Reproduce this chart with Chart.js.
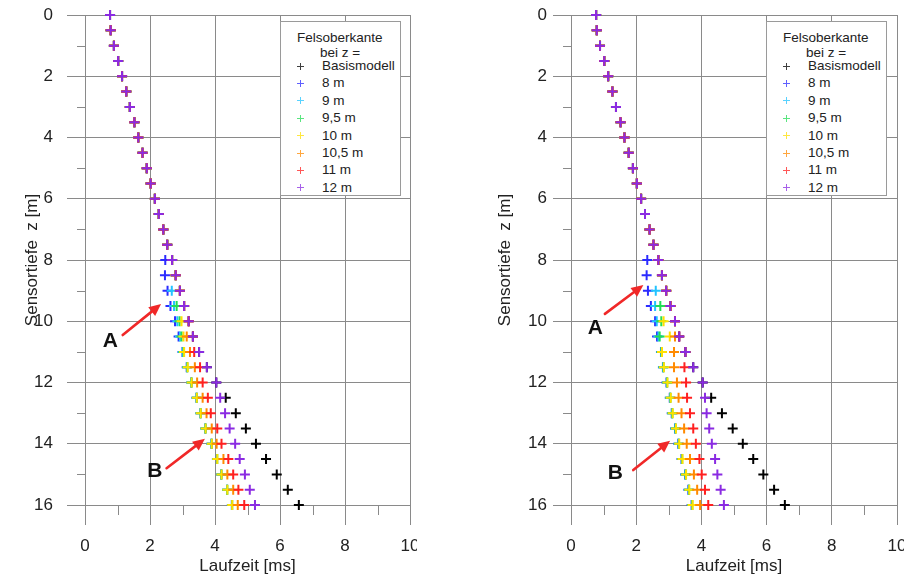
<!DOCTYPE html>
<html><head><meta charset="utf-8">
<script src="https://cdn.jsdelivr.net/npm/chart.js@4.4.0/dist/chart.umd.min.js"></script>
<style>
html,body{margin:0;padding:0;background:#fff;}
body{width:910px;height:574px;position:relative;overflow:hidden;font-family:"Liberation Sans",Arial,sans-serif;}
.panel{position:absolute;top:0;width:455px;height:574px;}
.panel canvas{position:absolute;left:0;top:0;}
.legend{position:absolute;background:#fff;border:1px solid #9a9a9a;box-sizing:border-box;font-size:13.5px;color:#222;}
.legend .ln{position:absolute;white-space:nowrap;line-height:16px;height:16px;}
.legend .mk{position:absolute;width:7px;height:7px;}
.legend .mk:before{content:"";position:absolute;left:3px;top:0;width:1px;height:7px;background:currentColor;}
.legend .mk:after{content:"";position:absolute;left:0;top:3px;width:7px;height:1px;background:currentColor;}
.mask{position:absolute;background:#fff;}
</style></head>
<body>
<div class="panel" id="p0" style="left:0"><canvas id="c0" width="455" height="574"></canvas></div>
<div class="panel" id="p1" style="left:455px"><canvas id="c1" width="455" height="574"></canvas></div>
<div class="mask" style="left:417px;top:532px;width:30px;height:24px"></div>
<div class="mask" style="left:904px;top:532px;width:6px;height:24px"></div>
<script>
// ---------------- data ----------------
const depths = [0,0.5,1,1.5,2,2.5,3,3.5,4,4.5,5,5.5,6,6.5,7,7.5,8,8.5,9,9.5,10,10.5,11,11.5,12,12.5,13,13.5,14,14.5,15,15.5,16];
const seriesNames = ['Basismodell','8 m','9 m','9,5 m','10 m','10,5 m','11 m','12 m'];
const seriesColors = ['#000000','#2b2bff','#22c4ff','#22dd55','#ffe000','#ff8a00','#ff2020','#8a2be2'];
const xTickValues = [0,2,4,6,8,10];
const yTickValues = [0,2,4,6,8,10,12,14,16];
const xMinorValues = [1,3,5,7,9];
const yMinorValues = [1,3,5,7,9,11,13,15];
const xTitle = 'Laufzeit [ms]';
const yTitle = 'Sensortiefe  z [m]';
const legendTitle = ['Felsoberkante','bei z ='];

// left panel (travel times in ms)
const leftBasis = [0.77,0.79,0.89,1.02,1.14,1.27,1.38,1.52,1.64,1.77,1.90,2.02,2.15,2.27,2.41,2.53,2.68,2.79,2.92,3.05,3.19,3.32,3.51,3.75,4.04,4.33,4.64,4.95,5.26,5.57,5.90,6.24,6.58];
const left8   = [0.77,0.79,0.89,1.02,1.14,1.27,1.38,1.52,1.64,1.77,1.90,2.02,2.15,2.27,2.41,2.53,2.47,2.46,2.54,2.63,2.77,2.88,3.00,3.13,3.27,3.43,3.55,3.70,3.89,4.06,4.19,4.37,4.52];
const left9   = [0.77,0.79,0.89,1.02,1.14,1.27,1.38,1.52,1.64,1.77,1.90,2.02,2.15,2.27,2.41,2.53,2.68,2.79,2.67,2.74,2.84,2.92,3.01,3.14,3.27,3.43,3.55,3.70,3.89,4.06,4.19,4.37,4.52];
const left95  = [0.77,0.79,0.89,1.02,1.14,1.27,1.38,1.52,1.64,1.77,1.90,2.02,2.15,2.27,2.41,2.53,2.68,2.79,2.92,2.82,2.91,2.97,3.03,3.15,3.28,3.44,3.56,3.71,3.90,4.07,4.20,4.38,4.53];
const left10  = [0.77,0.79,0.89,1.02,1.14,1.27,1.38,1.52,1.64,1.77,1.90,2.02,2.15,2.27,2.41,2.53,2.68,2.79,2.92,3.05,2.97,3.03,3.05,3.16,3.28,3.44,3.56,3.71,3.90,4.07,4.20,4.38,4.53];
const left105 = [0.77,0.79,0.89,1.02,1.14,1.27,1.38,1.52,1.64,1.77,1.90,2.02,2.15,2.27,2.41,2.53,2.68,2.79,2.92,3.05,3.19,3.13,3.23,3.38,3.45,3.62,3.74,3.90,4.05,4.26,4.38,4.56,4.70];
const left11  = [0.77,0.79,0.89,1.02,1.14,1.27,1.38,1.52,1.64,1.77,1.90,2.02,2.15,2.27,2.41,2.53,2.68,2.79,2.92,3.05,3.19,3.32,3.36,3.54,3.62,3.78,3.87,4.07,4.20,4.41,4.56,4.72,4.90];
const left12  = [0.77,0.79,0.89,1.02,1.14,1.27,1.38,1.52,1.64,1.77,1.90,2.02,2.15,2.27,2.41,2.53,2.68,2.79,2.92,3.05,3.19,3.32,3.51,3.75,4.04,4.16,4.31,4.45,4.62,4.76,4.92,5.07,5.23];

// right panel (travel times in ms)
const rightBasis = [0.77,0.79,0.89,1.02,1.14,1.27,1.38,1.52,1.64,1.77,1.90,2.02,2.15,2.27,2.41,2.53,2.68,2.79,2.92,3.05,3.19,3.32,3.51,3.75,4.04,4.30,4.63,4.96,5.27,5.59,5.90,6.23,6.56];
const right8   = [0.77,0.79,0.89,1.02,1.14,1.27,1.38,1.52,1.64,1.77,1.90,2.02,2.15,2.27,2.41,2.53,2.34,2.32,2.36,2.45,2.58,2.64,2.76,2.82,2.93,3.03,3.09,3.19,3.29,3.39,3.50,3.60,3.70];
const right9   = [0.77,0.79,0.89,1.02,1.14,1.27,1.38,1.52,1.64,1.77,1.90,2.02,2.15,2.27,2.41,2.53,2.68,2.79,2.60,2.58,2.63,2.68,2.77,2.83,2.94,3.04,3.10,3.20,3.30,3.40,3.51,3.61,3.71];
const right95  = [0.77,0.79,0.89,1.02,1.14,1.27,1.38,1.52,1.64,1.77,1.90,2.02,2.15,2.27,2.41,2.53,2.68,2.79,2.92,2.74,2.77,2.72,2.78,2.84,2.95,3.05,3.11,3.21,3.31,3.41,3.52,3.62,3.72];
const right10  = [0.77,0.79,0.89,1.02,1.14,1.27,1.38,1.52,1.64,1.77,1.90,2.02,2.15,2.27,2.41,2.53,2.68,2.79,2.92,3.05,2.84,3.03,2.79,2.85,2.96,3.06,3.12,3.22,3.32,3.42,3.53,3.63,3.73];
const right105 = [0.77,0.79,0.89,1.02,1.14,1.27,1.38,1.52,1.64,1.77,1.90,2.02,2.15,2.27,2.41,2.53,2.68,2.79,2.92,3.05,3.19,3.19,3.16,3.16,3.25,3.30,3.39,3.47,3.55,3.65,3.77,3.87,3.96];
const right11  = [0.77,0.79,0.89,1.02,1.14,1.27,1.38,1.52,1.64,1.77,1.90,2.02,2.15,2.27,2.41,2.53,2.68,2.79,2.92,3.05,3.19,3.32,3.51,3.48,3.53,3.56,3.65,3.75,3.83,3.94,4.01,4.11,4.21];
const right12  = [0.77,0.79,0.89,1.02,1.14,1.27,1.38,1.52,1.64,1.77,1.90,2.02,2.15,2.27,2.41,2.53,2.68,2.79,2.92,3.05,3.19,3.32,3.51,3.75,4.04,4.11,4.16,4.24,4.32,4.42,4.49,4.59,4.69];

// annotation arrows (data units: [time, depth])
const leftArrows = [
  {label:'A', from:[1.16,10.45], to:[2.34,9.44], text:[0.78,10.66]},
  {label:'B', from:[2.51,14.80], to:[3.69,13.84], text:[2.15,14.91]}
];
const rightArrows = [
  {label:'A', from:[1.04,9.76], to:[2.22,8.82], text:[0.75,10.24]},
  {label:'B', from:[1.91,14.86], to:[3.04,13.90], text:[1.36,14.96]}
];

// ---------------- drawing ----------------
const FONT = '"Liberation Sans", Arial, sans-serif';
const gridColor = '#8a8a8a';
const textColor = '#222222';

const minorTicksPlugin = {
  id: 'minorTicks',
  beforeDatasetsDraw(chart) {
    const {ctx, chartArea: a, scales: {x, y}} = chart;
    ctx.save();
    ctx.strokeStyle = gridColor;
    ctx.lineWidth = 1;
    xMinorValues.forEach(v => {
      const px = Math.round(x.getPixelForValue(v)) + 0.5;
      ctx.beginPath(); ctx.moveTo(px, a.bottom); ctx.lineTo(px, a.bottom + 10); ctx.stroke();
    });
    yMinorValues.forEach(v => {
      const py = Math.round(y.getPixelForValue(v)) + 0.5;
      ctx.beginPath(); ctx.moveTo(a.left - 8, py); ctx.lineTo(a.left, py); ctx.stroke();
    });
    ctx.restore();
  }
};

const arrowsPlugin = {
  id: 'arrows',
  afterDatasetsDraw(chart, args, opts) {
    const {ctx, scales: {x, y}} = chart;
    (opts.items || []).forEach(a => {
      const x0 = x.getPixelForValue(a.from[0]), y0 = y.getPixelForValue(a.from[1]);
      const x1 = x.getPixelForValue(a.to[0]),   y1 = y.getPixelForValue(a.to[1]);
      const ang = Math.atan2(y1 - y0, x1 - x0);
      const hl = 12, hw = 5.5;
      const bx = x1 - hl * Math.cos(ang), by = y1 - hl * Math.sin(ang);
      ctx.save();
      ctx.strokeStyle = '#f02828'; ctx.fillStyle = '#f02828';
      ctx.lineWidth = 2.6; ctx.lineCap = 'round';
      ctx.beginPath(); ctx.moveTo(x0, y0); ctx.lineTo(bx, by); ctx.stroke();
      ctx.beginPath();
      ctx.moveTo(x1, y1);
      ctx.lineTo(bx + hw * Math.sin(ang), by - hw * Math.cos(ang));
      ctx.lineTo(bx - hw * Math.sin(ang), by + hw * Math.cos(ang));
      ctx.closePath(); ctx.fill();
      ctx.fillStyle = '#111';
      ctx.font = 'bold 21px ' + FONT;
      ctx.textAlign = 'center'; ctx.textBaseline = 'middle';
      ctx.fillText(a.label, x.getPixelForValue(a.text[0]), y.getPixelForValue(a.text[1]));
      ctx.restore();
    });
  }
};

function buildChart(canvasId, panelSeries, geom, arrows) {
  const datasets = seriesNames.map((name, i) => ({
    label: name,
    data: depths.map((z, k) => ({x: panelSeries[i][k], y: z})),
    showLine: false,
    clip: false,
    pointStyle: 'cross',
    pointRadius: 5,
    pointHoverRadius: 5,
    pointBorderWidth: 2,
    borderColor: seriesColors[i],
    backgroundColor: seriesColors[i],
    order: seriesNames.length - 1 - i
  }));
  return new Chart(document.getElementById(canvasId), {
    type: 'scatter',
    data: {datasets},
    options: {
      responsive: false, animation: false, devicePixelRatio: 1,
      events: [],
      layout: {padding: {left: geom.padLeft, top: 15, right: geom.padRight, bottom: 0}},
      plugins: {legend: {display: false}, tooltip: {enabled: false}, arrows: {items: arrows}},
      scales: {
        x: {
          type: 'linear', min: 0, max: 10,
          afterBuildTicks: s => { s.ticks = xTickValues.map(v => ({value: v})); },
          ticks: {color: textColor, font: {family: FONT, size: 17}, padding: 11, maxRotation: 0, autoSkip: false},
          grid: {color: gridColor, tickColor: gridColor, tickLength: 20, lineWidth: 1},
          border: {display: false},
          title: {display: true, text: xTitle, color: textColor, font: {family: FONT, size: 17}, padding: {top: 0, bottom: -3}},
          afterFit: s => { s.height = 69; s.paddingLeft = 0; s.paddingRight = 0; }
        },
        y: {
          type: 'linear', reverse: true, min: 0, max: 16,
          afterBuildTicks: s => { s.ticks = yTickValues.map(v => ({value: v})); },
          ticks: {color: textColor, font: {family: FONT, size: 17}, padding: geom.yTickPad, autoSkip: false},
          grid: {color: gridColor, tickColor: gridColor, tickLength: 18, lineWidth: 1},
          border: {display: false},
          title: {display: true, text: yTitle, color: textColor, font: {family: FONT, size: 17}, padding: {top: 0, bottom: 0}},
          afterFit: s => { s.width = geom.yAxisWidth; s.paddingTop = 0; s.paddingBottom = 0; }
        }
      }
    },
    plugins: [minorTicksPlugin, arrowsPlugin]
  });
}

function buildLegend(panelId, boxLeft) {
  const box = document.createElement('div');
  box.className = 'legend';
  Object.assign(box.style, {left: boxLeft + 'px', top: '21px', width: '121px', height: '175px'});
  const add = (txt, left, cy) => {
    const d = document.createElement('div');
    d.className = 'ln'; d.textContent = txt;
    d.style.left = left + 'px'; d.style.top = (cy - 8) + 'px';
    box.appendChild(d);
  };
  add(legendTitle[0], 16, 15.5);
  add(legendTitle[1], 39, 30.5);
  seriesNames.forEach((name, i) => {
    const cy = 44 + i * 17.4;
    const m = document.createElement('div');
    m.className = 'mk'; m.style.color = seriesColors[i];
    m.style.left = '16px'; m.style.top = (cy - 3.5) + 'px';
    m.style.opacity = '0.75';
    box.appendChild(m);
    add(name, 41, cy);
  });
  document.getElementById(panelId).appendChild(box);
}

buildChart('c0', [leftBasis, left8, left9, left95, left10, left105, left11, left12],
  {padLeft: 22, padRight: 45, yAxisWidth: 63, yTickPad: 14}, leftArrows);
buildChart('c1', [rightBasis, right8, right9, right95, right10, right105, right11, right12],
  {padLeft: 40, padRight: 13, yAxisWidth: 76, yTickPad: 6}, rightArrows);
buildLegend('p0', 280);
buildLegend('p1', 311);
</script>
</body></html>
